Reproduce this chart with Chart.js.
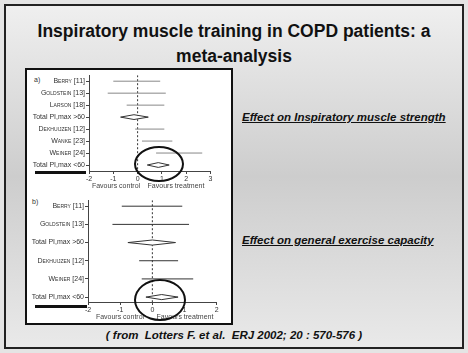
<!DOCTYPE html>
<html>
<head>
<meta charset="utf-8">
<script src="https://cdn.jsdelivr.net/npm/chart.js@4.4.0/dist/chart.umd.min.js"></script>
<style>
html, body { margin: 0; padding: 0; }
body { width: 468px; height: 353px; background: #e4e4e4; position: relative; overflow: hidden;
       font-family: 'Liberation Sans', Arial, sans-serif; }
.abs { position: absolute; }
#slide { left: 4px; top: 4px; width: 460px; height: 345px; box-sizing: border-box; border: 2px solid #222;
         background: linear-gradient(#efefef, #cdcdcd 50%, #e9e9e9); }
#title { left: 0; width: 468px; top: 19px; text-align: center; font-weight: bold; font-size: 17.5px;
         line-height: 25px; color: #111; }
#box { left: 25px; top: 68px; width: 208px; height: 257px; box-sizing: border-box; border: 2px solid #111; background: #fff; }
.effect { left: 242px; font-weight: bold; font-style: italic; font-size: 11.5px; line-height: 14px;
          text-decoration: underline; color: #111; white-space: nowrap; }
#cite { left: 0; width: 468px; top: 328px; text-align: center; font-weight: bold; font-style: italic;
        font-size: 11.5px; line-height: 14px; color: #111; white-space: pre; }
.fav { font-size: 7px; line-height: 8px; color: #444; transform: translateX(-50%); white-space: nowrap; }
.tag { font-size: 7px; line-height: 8px; color: #333; }
.bar { background: #111; height: 3px; }
.ring { border: 2px solid #111; border-radius: 50%; box-sizing: border-box; }
canvas { position: absolute; }
</style>
</head>
<body>
<div id="slide" class="abs"></div>
<div id="title" class="abs">Inspiratory muscle training in COPD patients: a<br>meta-analysis</div>
<div id="box" class="abs"></div>

<div class="abs tag" style="left:34px;top:76px;">a)</div>
<div class="abs tag" style="left:32px;top:198px;">b)</div>

<canvas id="chartA" width="200" height="116" style="left:28px;top:70px;"></canvas>
<canvas id="chartB" width="200" height="122" style="left:28px;top:195px;"></canvas>

<div class="abs fav" style="left:116px;top:182px;">Favours control</div>
<div class="abs fav" style="left:176px;top:182px;">Favours treatment</div>
<div class="abs fav" style="left:120px;top:313px;">Favours control</div>
<div class="abs fav" style="left:185px;top:313px;">Favours treatment</div>

<div class="abs bar" style="left:35px;top:171px;width:51px;"></div>
<div class="abs bar" style="left:35px;top:305px;width:52px;"></div>

<div class="abs ring" style="left:134px;top:146px;width:50px;height:36px;"></div>
<div class="abs ring" style="left:134px;top:279px;width:52px;height:42px;"></div>

<div class="abs effect" style="top:110px;">Effect on Inspiratory muscle strength</div>
<div class="abs effect" style="top:233px;">Effect on general exercise capacity</div>
<div id="cite" class="abs">( from  Lotters F. et al.  ERJ 2002; 20 : 570-576 )</div>

<script>
// a) inspiratory muscle strength
const labelsA = ['Berry [11]', 'Goldstein [13]', 'Larson [18]', 'Total PI,max >60',
                 'Dekhuijzen [12]', 'Wanke [23]', 'Weiner [24]', 'Total PI,max <60'];
const lowA = [-1.00, -1.23, -0.45, -0.70, -0.10, 0.18, 0.76, 0.40];
const highA = [0.93, 1.16, 1.10, 0.44, 1.10, 1.43, 2.66, 1.30];
const pooledA = [null, null, null, -0.15, null, null, null, 0.85];
const ticksA = [-2, -1, 0, 1, 2, 3];

// b) general exercise capacity
const labelsB = ['Berry [11]', 'Goldstein [13]', 'Total PI,max >60',
                 'Dekhuijzen [12]', 'Weiner [24]', 'Total PI,max <60'];
const lowB = [-0.95, -1.24, -0.76, -0.41, -0.33, -0.20];
const highB = [0.93, 1.14, 0.72, 0.80, 1.27, 0.80];
const pooledB = [null, null, 0.00, null, null, 0.29];
const ticksB = [-2, -1, 0, 1, 2];

const FONT = "'Liberation Sans', Arial, sans-serif";

function forest(id, labels, low, high, pooled, xTicks, cfg) {
    const datasets = [];
    // pooled diamonds on top
    labels.forEach((lab, i) => {
        if (pooled[i] === null) return;
        const h = cfg.diamond;
        datasets.push({
            data: [{x: low[i], y: i}, {x: pooled[i], y: i - h}, {x: high[i], y: i},
                   {x: pooled[i], y: i + h}, {x: low[i], y: i}],
            showLine: true, borderColor: '#333', borderWidth: 1, backgroundColor: '#fff',
            fill: 'shape', pointRadius: 0, tension: 0
        });
    });
    // study confidence intervals
    labels.forEach((lab, i) => {
        if (pooled[i] !== null) return;
        datasets.push({
            data: [{x: low[i], y: i}, {x: high[i], y: i}],
            showLine: true, borderColor: cfg.lineColor, borderWidth: 1, pointRadius: 0
        });
    });
    // line of no effect
    datasets.push({
        data: [{x: 0, y: cfg.yMin}, {x: 0, y: cfg.yMax}],
        showLine: true, borderColor: '#333', borderWidth: 1, borderDash: [2, 2], pointRadius: 0
    });

    return new Chart(document.getElementById(id), {
        type: 'scatter',
        data: {datasets: datasets},
        options: {
            responsive: false,
            animation: false,
            layout: {padding: {top: 4, right: cfg.padRight, left: 0, bottom: 0}},
            plugins: {legend: {display: false}, tooltip: {enabled: false}},
            scales: {
                x: {
                    min: xTicks[0], max: xTicks[xTicks.length - 1],
                    afterBuildTicks: s => { s.ticks = xTicks.map(v => ({value: v})); },
                    afterFit: s => { s.height = 15; },
                    grid: {drawOnChartArea: false, tickLength: 3, color: '#444'},
                    border: {color: '#444'},
                    ticks: {font: {size: 7, family: FONT}, color: '#333', padding: 1}
                },
                y: {
                    reverse: true, min: cfg.yMin, max: cfg.yMax,
                    afterBuildTicks: s => { s.ticks = labels.map((l, i) => ({value: i})); },
                    afterFit: s => { s.width = cfg.yWidth; },
                    grid: {drawOnChartArea: false, tickLength: 3, color: '#444'},
                    border: {color: '#444'},
                    ticks: {
                        callback: v => labels[v],
                        color: '#333', padding: 1,
                        font: c => labels[c.index] && labels[c.index].startsWith('Total')
                            ? {size: 7, family: FONT}
                            : {size: 7, family: FONT, weight: 'small-caps'}
                    }
                }
            }
        }
    });
}

forest('chartA', labelsA, lowA, highA, pooledA, ticksA,
       {yMin: -0.5, yMax: 7.5, yWidth: 61, padRight: 17.5, diamond: 0.2, lineColor: '#888'});
forest('chartB', labelsB, lowB, highB, pooledB, ticksB,
       {yMin: -0.33, yMax: 5.27, yWidth: 60, padRight: 11.3, diamond: 0.14, lineColor: '#333'});
</script>
</body>
</html>
